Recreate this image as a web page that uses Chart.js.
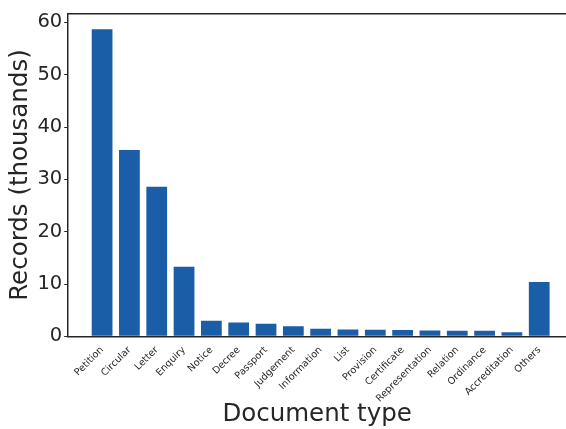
<!DOCTYPE html>
<html>
<head>
<meta charset="utf-8">
<script src="https://cdn.jsdelivr.net/npm/chart.js@4"></script>
<style>
  html, body { margin: 0; padding: 0; background: #fff; overflow: hidden; }
  #wrap { width: 566px; height: 429px; }
</style>
</head>
<body>
<div id="wrap"><canvas id="docChart"></canvas></div>
<script>
// Document types and record counts (thousands)
const docTypes = ['Petition', 'Circular', 'Letter', 'Enquiry', 'Notice', 'Decree', 'Passport',
  'Judgement', 'Information', 'List', 'Provision', 'Certificate', 'Representation',
  'Relation', 'Ordinance', 'Accreditation', 'Others'];
const records = [58.7, 35.6, 28.6, 13.3, 3.0, 2.65, 2.4, 1.95, 1.45, 1.3, 1.25, 1.2, 1.1,
  1.05, 1.05, 0.8, 10.4];
const yTicks = [0, 10, 20, 30, 40, 50, 60];

const textColor = '#262626';
const barColor = '#1a5ea8';

new Chart(document.getElementById('docChart'), {
  type: 'bar',
  data: {
    datasets: [{
      data: docTypes.map((t, i) => ({ x: i, y: records[i] })),
      backgroundColor: barColor,
      borderWidth: 0,
      barPercentage: 0.76,
      categoryPercentage: 1.0,
    }]
  },
  options: {
    responsive: true,
    maintainAspectRatio: false,
    animation: false,
    layout: { padding: { left: 6, right: 0, top: 2, bottom: 0 } },
    plugins: {
      legend: { display: false },
      tooltip: { enabled: false },
    },
    scales: {
      x: {
        type: 'linear',
        offset: false,
        min: -1.24,
        max: 16.98,
        afterBuildTicks: (axis) => { axis.ticks = docTypes.map((t, i) => ({ value: i })); },
        grid: { display: false },
        border: { display: true, color: textColor, width: 1.5 },
        ticks: {
          autoSkip: false,
          minRotation: 45,
          maxRotation: 45,
          padding: 0,
          color: textColor,
          font: { family: 'DejaVu Sans', size: 9.7 },
          callback: (v) => docTypes[v] ?? '',
        },
        title: {
          display: true,
          text: 'Document type',
          color: textColor,
          font: { family: 'DejaVu Sans', size: 24.5 },
          padding: { top: -5, bottom: 0 },
        },
      },
      xTop: {
        type: 'linear',
        position: 'top',
        offset: false,
        min: -1.24,
        max: 16.98,
        grid: { display: false },
        ticks: { display: false },
        border: { display: true, color: textColor, width: 1.5 },
      },
      y: {
        min: 0,
        max: 61.65,
        afterBuildTicks: (axis) => { axis.ticks = yTicks.map(v => ({ value: v })); },
        grid: { drawOnChartArea: false, drawTicks: true, tickLength: 4, color: textColor, tickWidth: 1 },
        border: { display: true, color: textColor, width: 1.5 },
        ticks: {
          padding: 2,
          color: textColor,
          font: { family: 'DejaVu Sans', size: 19.5 },
        },
        title: {
          display: true,
          text: 'Records (thousands)',
          color: textColor,
          font: { family: 'DejaVu Sans', size: 24.5 },
          padding: { top: 0, bottom: 0 },
        },
      }
    }
  }
});
</script>
</body>
</html>
